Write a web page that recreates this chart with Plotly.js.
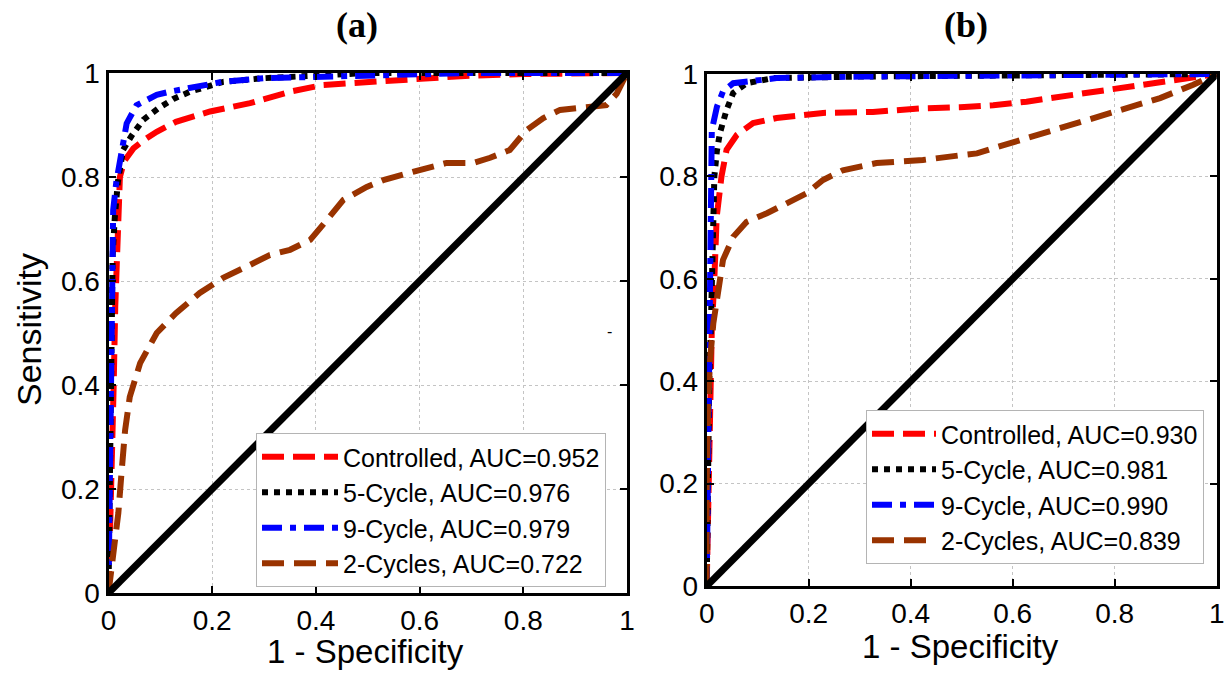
<!DOCTYPE html>
<html>
<head>
<meta charset="utf-8">
<script src="https://cdn.plot.ly/plotly-3.0.1.min.js"></script>
<style>html,body{margin:0;padding:0;background:#fff;}#chart{width:1224px;height:675px;}</style>
</head>
<body>
<div id="chart"></div>
<script>
// ---------- Panel (a) data ----------
const aCtrlX = [0, 0.003, 0.006, 0.01, 0.013, 0.016, 0.018, 0.022, 0.03, 0.048, 0.07, 0.093, 0.13, 0.196, 0.273, 0.35, 0.414, 0.51, 0.6, 0.7, 0.8, 0.9, 1];
const aCtrlY = [0, 0.1, 0.25, 0.4, 0.55, 0.647, 0.724, 0.80, 0.83, 0.855, 0.872, 0.887, 0.906, 0.926, 0.942, 0.964, 0.977, 0.983, 0.99, 0.995, 0.998, 1, 1];
const a5X = [0, 0.002, 0.004, 0.006, 0.008, 0.012, 0.018, 0.028, 0.045, 0.067, 0.096, 0.125, 0.157, 0.221, 0.3, 0.4, 0.5, 0.7, 1];
const a5Y = [0, 0.2, 0.4, 0.55, 0.65, 0.72, 0.79, 0.852, 0.88, 0.91, 0.932, 0.95, 0.964, 0.983, 0.99, 0.995, 1, 1, 1];
const a9X = [0, 0.002, 0.004, 0.006, 0.009, 0.015, 0.022, 0.035, 0.054, 0.093, 0.118, 0.17, 0.22, 0.3, 0.41, 0.55, 0.7, 1];
const a9Y = [0, 0.2, 0.4, 0.6, 0.736, 0.79, 0.836, 0.903, 0.938, 0.958, 0.964, 0.974, 0.983, 0.99, 0.993, 0.998, 1, 1];
const a2X = [0, 0.0125, 0.019, 0.025, 0.032, 0.041, 0.061, 0.093, 0.13, 0.176, 0.221, 0.267, 0.311, 0.35, 0.389, 0.421, 0.453, 0.498, 0.53, 0.587, 0.652, 0.703, 0.736, 0.774, 0.806, 0.838, 0.871, 0.909, 0.96, 0.98, 1];
const a2Y = [0, 0.089, 0.154, 0.23, 0.313, 0.377, 0.442, 0.5, 0.538, 0.577, 0.606, 0.628, 0.65, 0.66, 0.679, 0.717, 0.756, 0.781, 0.794, 0.81, 0.827, 0.827, 0.837, 0.852, 0.89, 0.913, 0.929, 0.933, 0.938, 0.96, 1];

// ---------- Panel (b) data ----------
const bCtrlX = [0, 0.003, 0.005, 0.01, 0.015, 0.0196, 0.029, 0.039, 0.059, 0.091, 0.137, 0.228, 0.326, 0.424, 0.497, 0.562, 0.627, 0.693, 0.758, 0.824, 0.889, 0.954, 1];
const bCtrlY = [0, 0.15, 0.3, 0.5, 0.6, 0.721, 0.80, 0.852, 0.881, 0.904, 0.914, 0.924, 0.926, 0.933, 0.935, 0.939, 0.946, 0.956, 0.966, 0.975, 0.985, 0.995, 1];
const b5X = [0, 0.002, 0.005, 0.008, 0.01, 0.015, 0.02, 0.026, 0.039, 0.052, 0.078, 0.13, 0.3, 0.6, 1];
const b5Y = [0, 0.2, 0.4, 0.5, 0.6, 0.8, 0.85, 0.885, 0.93, 0.963, 0.982, 0.992, 0.995, 0.997, 1];
const b9X = [0, 0.002, 0.004, 0.006, 0.008, 0.01, 0.02, 0.032, 0.052, 0.098, 0.137, 0.3, 0.6, 1];
const b9Y = [0, 0.2, 0.45, 0.65, 0.8, 0.89, 0.936, 0.966, 0.982, 0.988, 0.992, 0.995, 0.997, 1];
const b2X = [0, 0, 0.003, 0.0065, 0.013, 0.022, 0.032, 0.052, 0.078, 0.118, 0.163, 0.196, 0.228, 0.267, 0.333, 0.424, 0.503, 0.53, 0.562, 0.627, 0.693, 0.758, 0.824, 0.889, 0.954, 1];
const b2Y = [0, 0.2, 0.363, 0.44, 0.513, 0.572, 0.637, 0.682, 0.711, 0.728, 0.75, 0.767, 0.793, 0.812, 0.826, 0.832, 0.842, 0.845, 0.855, 0.875, 0.894, 0.914, 0.933, 0.953, 0.979, 1];

const diagX = [0, 1];
const diagY = [0, 1];

const aNames = ['Controlled, AUC=0.952', '5-Cycle, AUC=0.976', '9-Cycle, AUC=0.979', '2-Cycles, AUC=0.722'];
const bNames = ['Controlled, AUC=0.930', '5-Cycle, AUC=0.981', '9-Cycle, AUC=0.990', '2-Cycles, AUC=0.839'];
const tickVals = [0, 0.2, 0.4, 0.6, 0.8, 1];
const tickText = ['0', '0.2', '0.4', '0.6', '0.8', '1'];

// ---------- styles ----------
const styles = [
  {color: '#ff0000', dash: '22px,9px'},
  {color: '#000000', dash: '6px,6px'},
  {color: '#0000ff', dash: '20px,8px,6px,8px'},
  {color: '#993300', dash: '22px,10px'}
];
const LW = 6;

function curve(x, y, name, st, xa, ya, leg) {
  return {x: x, y: y, name: name, type: 'scatter', mode: 'lines', xaxis: xa, yaxis: ya,
    legend: leg, cliponaxis: false,
    line: {color: st.color, width: LW, dash: st.dash}};
}

const traces = [
  curve(aCtrlX, aCtrlY, aNames[0], styles[0], 'x', 'y', 'legend'),
  curve(a5X, a5Y, aNames[1], styles[1], 'x', 'y', 'legend'),
  curve(a9X, a9Y, aNames[2], styles[2], 'x', 'y', 'legend'),
  curve(a2X, a2Y, aNames[3], styles[3], 'x', 'y', 'legend'),
  {x: diagX, y: diagY, type: 'scatter', mode: 'lines', xaxis: 'x', yaxis: 'y', showlegend: false, cliponaxis: false,
   line: {color: '#000', width: 7}},
  curve(bCtrlX, bCtrlY, bNames[0], styles[0], 'x2', 'y2', 'legend2'),
  curve(b5X, b5Y, bNames[1], styles[1], 'x2', 'y2', 'legend2'),
  curve(b9X, b9Y, bNames[2], styles[2], 'x2', 'y2', 'legend2'),
  curve(b2X, b2Y, bNames[3], styles[3], 'x2', 'y2', 'legend2'),
  {x: diagX, y: diagY, type: 'scatter', mode: 'lines', xaxis: 'x2', yaxis: 'y2', showlegend: false, cliponaxis: false,
   line: {color: '#000', width: 7}}
];

const W = 1224, H = 675;
const px = v => v / W;
const py = v => 1 - v / H;

function axis(domain, anchor) {
  return {
    domain: domain, anchor: anchor, range: [0, 1], tickvals: tickVals, ticktext: tickText,
    showline: true, linecolor: '#000', linewidth: 3, mirror: 'ticks',
    ticks: 'inside', ticklen: 7, tickwidth: 2, tickcolor: '#000',
    showgrid: true, gridcolor: '#c4c4c4', gridwidth: 1, griddash: 'dot',
    zeroline: false, fixedrange: true, automargin: false,
    ticklabeloverflow: 'allow',
    tickfont: {family: 'Liberation Sans, Arial, sans-serif', size: 28, color: '#000'},
    ticklabelstandoff: 0
  };
}

const legendBase = {
  bgcolor: '#ffffff', bordercolor: '#b4b4b4', borderwidth: 1,
  font: {family: 'Liberation Sans, Arial, sans-serif', size: 25, color: '#000'},
  xanchor: 'left', yanchor: 'top', tracegroupgap: 0,
  itemclick: false, itemdoubleclick: false
};

const ann = (text, x, y, size, family, angle) => ({
  text: text, xref: 'paper', yref: 'paper', x: px(x), y: py(y), showarrow: false,
  xanchor: 'center', yanchor: 'middle', textangle: angle || 0,
  font: {family: family, size: size, color: '#000'}
});
const SANS = 'Liberation Sans, Arial, sans-serif';
const SERIF = 'Liberation Serif, Times New Roman, serif';

const layout = {
  width: W, height: H,
  margin: {l: 0, r: 0, t: 0, b: 0},
  paper_bgcolor: '#fff', plot_bgcolor: '#fff',
  showlegend: true,
  xaxis: axis([px(108.5), px(627)], 'y'),
  yaxis: axis([py(593), py(73)], 'x'),
  xaxis2: axis([px(706.7), px(1216.7)], 'y2'),
  yaxis2: axis([py(586), py(74)], 'x2'),
  legend: Object.assign({}, legendBase, {x: px(256), y: py(433), itemwidth: 76}),
  legend2: Object.assign({}, legendBase, {x: px(866), y: py(410), itemwidth: 64}),
  annotations: [
    ann('<b>(a)</b>', 357, 25, 36, SERIF),
    ann('<b>(b)</b>', 966, 25, 36, SERIF),
    ann('1 - Specificity', 365, 651, 33, SANS),
    ann('1 - Specificity', 960, 646, 33, SANS),
    ann('Sensitivity', 29, 330, 34, SANS, -90),
    ann('-', 609, 331, 16, SANS)
  ]
};

Plotly.newPlot('chart', traces, layout, {staticPlot: true, displayModeBar: false});
</script>
</body>
</html>
